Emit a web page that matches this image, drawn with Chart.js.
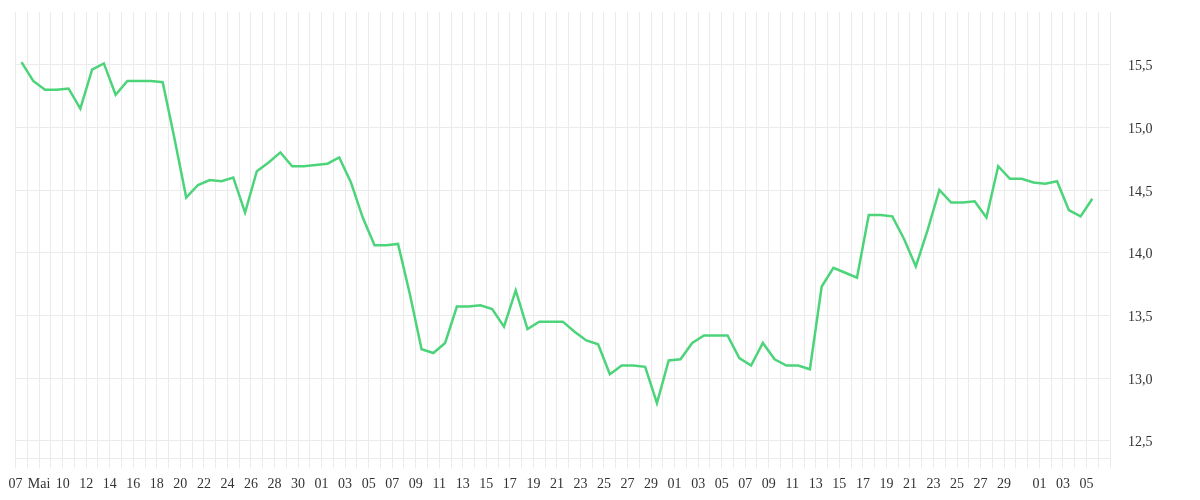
<!DOCTYPE html>
<html>
<head>
<meta charset="utf-8">
<script src="https://cdn.jsdelivr.net/npm/chart.js@4"></script>
<style>
html,body{margin:0;padding:0;background:#fff;}
#wrap{position:relative;width:1200px;height:500px;}
</style>
</head>
<body>
<div id="wrap"><canvas id="c"></canvas></div>
<script>
// One category per day slot (93 slots); only some carry a visible label
const tickLabels = [
  "07","","Mai","","10","","12","","14","","16","","18","","20","","22","","24","","26","","28","","30","",
  "01","","03","","05","","07","","09","","11","","13","","15","","17","","19","","21","","23","","25","","27","","29","",
  "01","","03","","05","","07","","09","","11","","13","","15","","17","","19","","21","","23","","25","","27","","29","","",
  "01","","03","","05",""
];

// Daily values (92 points)
const values = [
  15.52, 15.37, 15.30, 15.30, 15.31, 15.15, 15.46, 15.51, 15.26, 15.37,
  15.37, 15.37, 15.36, 14.91, 14.44, 14.54, 14.58, 14.57, 14.60, 14.32,
  14.65, 14.72, 14.80, 14.69, 14.69, 14.70, 14.71, 14.76, 14.56, 14.28,
  14.06, 14.06, 14.07, 13.67, 13.23, 13.20, 13.28, 13.57, 13.57, 13.58,
  13.55, 13.41, 13.70, 13.39, 13.45, 13.45, 13.45, 13.37, 13.30, 13.27,
  13.03, 13.10, 13.10, 13.09, 12.80, 13.14, 13.15, 13.28, 13.34, 13.34,
  13.34, 13.16, 13.10, 13.28, 13.15, 13.10, 13.10, 13.07, 13.73, 13.88,
  13.84, 13.80, 14.30, 14.30, 14.29, 14.11, 13.89, 14.18, 14.50, 14.40,
  14.40, 14.41, 14.28, 14.69, 14.59, 14.59, 14.56, 14.55, 14.57, 14.34,
  14.29, 14.43
];

const yMin = 12.36;
const yMax = 15.92;
const yStep = 0.5;

const gridColor = '#ebebeb';
const textColor = '#333333';
const font = { family: '"Liberation Serif", "Times New Roman", serif', size: 14 };

new Chart(document.getElementById('c'), {
  type: 'line',
  data: {
    labels: tickLabels,
    datasets: [{
      data: values,
      borderColor: '#4cd47a',
      borderWidth: 2.5,
      pointRadius: 0,
      pointHoverRadius: 0,
      fill: false,
      tension: 0
    }]
  },
  options: {
    responsive: true,
    maintainAspectRatio: false,
    animation: false,
    layout: { padding: { left: 15.6, right: 0, top: 12, bottom: 0 } },
    plugins: { legend: { display: false }, tooltip: { enabled: false } },
    scales: {
      x: {
        offset: true,
        afterFit: (s) => { s.paddingLeft = 0; s.paddingRight = 0; s.height = 41.7; },
        grid: { offset: true, color: gridColor, lineWidth: 1, drawTicks: true, tickLength: 10 },
        border: { display: true, color: gridColor },
        ticks: {
          autoSkip: false,
          maxRotation: 0,
          minRotation: 0,
          labelOffset: -5.88,
          padding: 8,
          color: textColor,
          font: font
        }
      },
      y: {
        position: 'right',
        min: yMin,
        max: yMax,
        afterBuildTicks: (s) => {
          s.ticks = s.ticks.filter(t => Math.abs(t.value / yStep - Math.round(t.value / yStep)) < 1e-6);
        },
        afterFit: (s) => { s.paddingTop = 0; s.paddingBottom = 0; s.width = 90; },
        grid: { color: gridColor, drawTicks: false },
        border: { display: true, color: gridColor },
        ticks: {
          stepSize: yStep,
          padding: 18,
          labelOffset: 2,
          color: textColor,
          font: font,
          callback: (v) => Number(v).toFixed(1).replace('.', ',')
        }
      }
    }
  }
});
</script>
</body>
</html>
